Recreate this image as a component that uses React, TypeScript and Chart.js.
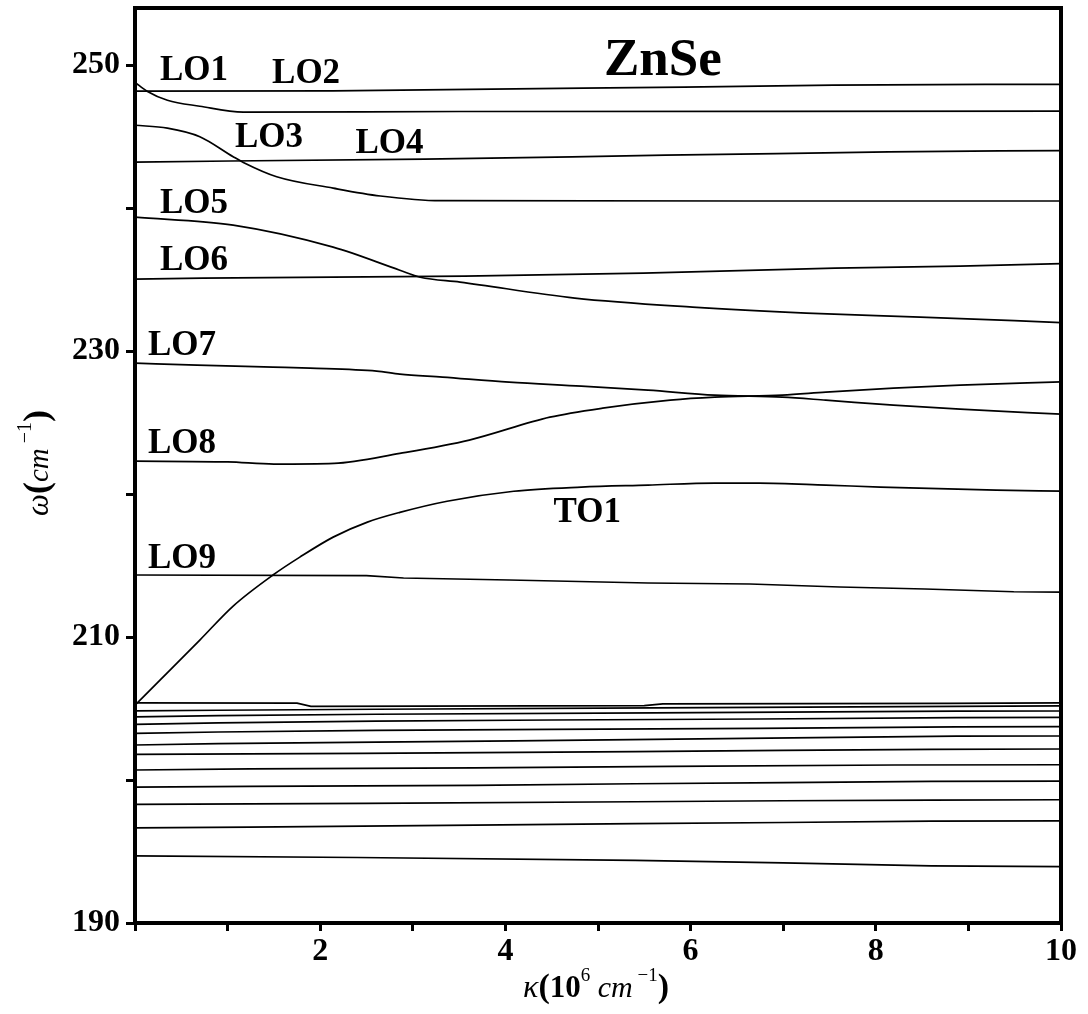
import React, { useEffect, useRef } from "react";
import { Chart, registerables } from "chart.js";

Chart.register(...registerables);

const FONT = '"Liberation Serif", "Times New Roman", serif';

// ---- axis setup ----
const xMin = 0;
const xMax = 10;
const yMin = 190;
const yMax = 254;
const xLabeledTicks = [2, 4, 6, 8, 10];
const yLabeledTicks = [190, 210, 230, 250];

// ---- upper branches ----
const c1K = [0, 2.14, 4.84, 5.93, 7.54, 9.18, 10];
const c1W = [248.18, 248.2, 248.39, 248.46, 248.6, 248.66, 248.66];

const c2K = [0, 0.13, 0.35, 0.7, 1.17, 3.5, 10];
const c2W = [248.8, 248.18, 247.55, 247.13, 246.72, 246.76, 246.78];

const c3K = [0, 0.35, 0.7, 1.06, 1.17, 1.53, 2.14, 2.65, 3.3, 7.5, 10];
const c3W = [245.8, 245.6, 245.0, 243.6, 243.2, 242.2, 241.4, 240.85, 240.52, 240.5, 240.5];

const c4K = [0, 1.03, 3.13, 4.72, 5.73, 6.93, 8.14, 9.34, 10];
const c4W = [243.22, 243.3, 243.43, 243.58, 243.71, 243.82, 243.94, 244.0, 244.02];

const c5K = [0, 1.06, 2.14, 2.86, 3.08, 3.51, 4.75, 6.02, 7.25, 8.48, 10];
const c5W = [239.37, 238.81, 237.27, 235.66, 235.17, 234.83, 233.71, 233.08, 232.66, 232.38, 232.0];

const c6K = [0, 0.73, 2.14, 3.56, 5.49, 7.56, 8.91, 10];
const c6W = [235.03, 235.1, 235.17, 235.24, 235.45, 235.8, 235.94, 236.12];

const c7K = [0, 0.67, 1.49, 1.89, 2.61, 2.86, 3.32, 4.04, 4.82, 5.54, 6.26, 6.99, 7.46, 8.19, 8.91, 10];
const c7W = [229.16, 229.02, 228.88, 228.81, 228.6, 228.39, 228.18, 227.83, 227.55, 227.27, 226.92, 226.78, 226.57, 226.22, 225.94, 225.59];

const c8K = [0, 1.0, 1.5, 2.15, 2.86, 3.61, 4.48, 5.05, 5.78, 6.26, 6.99, 7.46, 8.19, 8.91, 10];
const c8W = [222.3, 222.25, 222.1, 222.15, 222.85, 223.78, 225.38, 226.01, 226.57, 226.78, 226.92, 227.13, 227.41, 227.62, 227.85];

const to1K = [0, 0.27, 0.7, 1.06, 1.49, 1.78, 2.14, 2.51, 2.86, 3.37, 4.09, 4.82, 5.54, 6.26, 6.74, 7.46, 8.05, 9.3, 10];
const to1W = [205.24, 206.99, 209.79, 212.17, 214.34, 215.59, 216.99, 218.04, 218.72, 219.5, 220.2, 220.49, 220.63, 220.77, 220.77, 220.63, 220.49, 220.28, 220.21];

const c9K = [0, 2.5, 2.9, 4.04, 5.54, 6.64, 7.61, 8.53, 9.49, 10];
const c9W = [214.34, 214.3, 214.13, 213.99, 213.78, 213.71, 213.5, 213.36, 213.17, 213.15];

// ---- lower bundle ----
const b1K = [0, 1.75, 1.9, 5.5, 5.7, 8.8, 10];
const b1W = [205.4, 205.38, 205.15, 205.2, 205.33, 205.36, 205.4];
const b2K = [0, 0.9, 2.6, 5.6, 8.87, 10];
const b2W = [204.84, 204.88, 204.95, 205.05, 205.15, 205.18];
const b3K = [0, 0.9, 2.6, 5.6, 8.87, 10];
const b3W = [204.42, 204.5, 204.6, 204.7, 204.82, 204.83];
const b4K = [0, 0.9, 2.6, 4.5, 6.74, 8.87, 10];
const b4W = [203.89, 204.0, 204.12, 204.2, 204.27, 204.37, 204.38];
const b5K = [0, 0.9, 2.6, 4.5, 6.74, 8.87, 10];
const b5W = [203.26, 203.36, 203.47, 203.54, 203.62, 203.72, 203.73];
const b6K = [0, 0.9, 2.6, 4.1, 5.6, 7.1, 8.87, 10];
const b6W = [202.45, 202.55, 202.65, 202.74, 202.84, 202.95, 203.07, 203.08];
const b7K = [0, 2.46, 5.4, 7.0, 8.6, 10];
const b7W = [201.8, 201.86, 201.98, 202.08, 202.15, 202.17];
const b8K = [0, 1.24, 3.67, 5.8, 8.2, 10];
const b8W = [200.7, 200.78, 200.85, 200.95, 201.05, 201.07];
const b9K = [0, 1.24, 3.67, 5.4, 7.0, 8.6, 10];
const b9W = [199.5, 199.55, 199.63, 199.74, 199.82, 199.9, 199.93];
const b10K = [0, 2.5, 5.4, 7.0, 8.6, 10];
const b10W = [198.3, 198.37, 198.48, 198.55, 198.6, 198.62];
const b11K = [0, 1.24, 3.67, 5.4, 7.0, 8.6, 10];
const b11W = [196.66, 196.7, 196.85, 196.95, 197.03, 197.13, 197.15];
const b12K = [0, 2.4, 5.4, 7.0, 8.6, 10];
const b12W = [194.69, 194.58, 194.38, 194.2, 194.0, 193.95];

// ---- text annotations ----
const labelNames = ["LO1", "LO2", "LO3", "LO4", "LO5", "LO6", "LO7", "LO8", "LO9", "TO1"];
const labelK = [0.27, 1.48, 1.08, 2.38, 0.27, 0.27, 0.14, 0.14, 0.14, 4.52];
const labelW = [248.95, 248.74, 244.27, 243.85, 239.65, 235.66, 229.72, 222.87, 214.83, 218.04];
const titleText = "ZnSe";
const titleK = 5.7;
const titleW = 249.3;

const curves: [number[], number[]][] = [
  [c1K, c1W], [c2K, c2W], [c3K, c3W], [c4K, c4W], [c5K, c5W], [c6K, c6W],
  [c7K, c7W], [c8K, c8W], [to1K, to1W], [c9K, c9W],
  [b1K, b1W], [b2K, b2W], [b3K, b3W], [b4K, b4W], [b5K, b5W], [b6K, b6W],
  [b7K, b7W], [b8K, b8W], [b9K, b9W], [b10K, b10W], [b11K, b11W], [b12K, b12W],
];
const smoothCurves = [c2K, c3K, c5K, c7K, c8K, to1K];

type Part = { t: string; f: string; dy?: number };

const xTitleParts: Part[] = [
  { t: "κ", f: `italic 32px ${FONT}` },
  { t: "(", f: `bold 34px ${FONT}` },
  { t: "10", f: `bold 31px ${FONT}` },
  { t: "6", f: `19px ${FONT}`, dy: -16 },
  { t: " cm", f: `italic 30px ${FONT}` },
  { t: " −1", f: `19px ${FONT}`, dy: -16 },
  { t: ")", f: `bold 34px ${FONT}` },
];
const yTitleParts: Part[] = [
  { t: "ω", f: `italic 31px ${FONT}` },
  { t: "(", f: `bold 36px ${FONT}` },
  { t: "cm", f: `italic 29px ${FONT}` },
  { t: " −1", f: `20px ${FONT}`, dy: -17 },
  { t: ")", f: `bold 36px ${FONT}` },
];

function partsWidth(ctx: CanvasRenderingContext2D, parts: Part[]) {
  let w = 0;
  for (const p of parts) {
    ctx.font = p.f;
    w += ctx.measureText(p.t).width;
  }
  return w;
}
function drawParts(ctx: CanvasRenderingContext2D, parts: Part[], x0: number, y0: number) {
  let x = x0;
  for (const p of parts) {
    ctx.font = p.f;
    ctx.fillText(p.t, x, y0 + (p.dy || 0));
    x += ctx.measureText(p.t).width;
  }
}

const decor = {
  id: "decor",
  afterDatasetsDraw(chart: any) {
    const { ctx, chartArea: a, scales } = chart;
    const xs = scales.x;
    const ys = scales.y;
    ctx.save();
    ctx.strokeStyle = "#000";
    ctx.lineWidth = 4;
    ctx.strokeRect(a.left, a.top, a.right - a.left, a.bottom - a.top);
    ctx.fillStyle = "#000";
    ctx.textBaseline = "alphabetic";
    ctx.textAlign = "left";
    ctx.font = `bold 35px ${FONT}`;
    labelNames.forEach((n, i) => {
      ctx.fillText(n, xs.getPixelForValue(labelK[i]), ys.getPixelForValue(labelW[i]));
    });
    ctx.font = `bold 53px ${FONT}`;
    ctx.textAlign = "center";
    ctx.fillText(titleText, xs.getPixelForValue(titleK), ys.getPixelForValue(titleW));
    ctx.textAlign = "left";
    // x title
    const wx = partsWidth(ctx, xTitleParts);
    drawParts(ctx, xTitleParts, 596 - wx / 2, 997);
    // y title
    ctx.save();
    ctx.translate(48, 463);
    ctx.rotate(-Math.PI / 2);
    const wy = partsWidth(ctx, yTitleParts);
    drawParts(ctx, yTitleParts, -wy / 2, 0);
    ctx.restore();
    ctx.restore();
  },
};

export default function App() {
  const ref = useRef<HTMLCanvasElement | null>(null);
  useEffect(() => {
    if (!ref.current) return;
    const chart = new Chart(ref.current, {
      type: "scatter",
      data: {
        datasets: curves.map(([k, w]) => ({
          data: k.map((v, i) => ({ x: v, y: w[i] })),
          showLine: true,
          borderColor: "#000",
          borderWidth: 1.7,
          pointRadius: 0,
          cubicInterpolationMode: smoothCurves.includes(k) ? "monotone" : "default",
          tension: 0,
          fill: false,
        })),
      },
      options: {
        animation: false,
        responsive: false,
        devicePixelRatio: 1,
        layout: { padding: { top: 8, right: 27, left: 0, bottom: 0 } },
        plugins: { legend: { display: false }, tooltip: { enabled: false } },
        scales: {
          x: {
            type: "linear",
            min: xMin,
            max: xMax,
            border: { display: false },
            grid: { drawOnChartArea: false, drawTicks: true, tickLength: 8, tickWidth: 3, tickColor: "#000", color: "#000" },
            ticks: {
              stepSize: 1,
              autoSkip: false,
              maxRotation: 0,
              padding: 2,
              color: "#000",
              font: { family: FONT, size: 32, weight: "bold" },
              callback: (v: any) => (xLabeledTicks.includes(Number(v)) ? String(v) : ""),
            },
            afterFit: (s: any) => {
              s.height = 91;
              s.paddingLeft = 0;
              s.paddingRight = 0;
            },
          },
          y: {
            type: "linear",
            min: yMin,
            max: yMax,
            border: { display: false },
            grid: { drawOnChartArea: false, drawTicks: true, tickLength: 9, tickWidth: 3, tickColor: "#000", color: "#000" },
            ticks: {
              stepSize: 10,
              includeBounds: false,
              autoSkip: false,
              padding: 6,
              color: "#000",
              font: { family: FONT, size: 32, weight: "bold" },
              callback: (v: any) => (yLabeledTicks.includes(Number(v)) ? String(v) : ""),
            },
            afterFit: (s: any) => {
              s.width = 135;
              s.paddingTop = 0;
              s.paddingBottom = 0;
            },
          },
        },
      } as any,
      plugins: [decor],
    });
    return () => chart.destroy();
  }, []);
  return (
    <div style={{ position: "absolute", left: 0, top: 0, width: 1088, height: 1014, background: "#fff" }}>
      <canvas ref={ref} width={1088} height={1014} />
    </div>
  );
}
